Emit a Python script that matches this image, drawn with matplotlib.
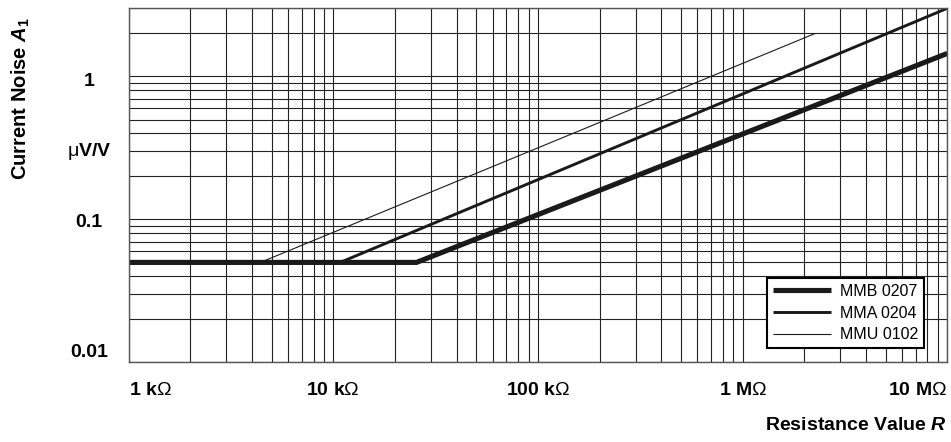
import matplotlib
matplotlib.use("Agg")
import matplotlib.pyplot as plt
from matplotlib.ticker import NullFormatter, LogLocator
import matplotlib.transforms as mtransforms

plt.rcParams['font.family'] = ['Liberation Sans', 'DejaVu Sans']
plt.rcParams['mathtext.fontset'] = 'custom'
plt.rcParams['mathtext.rm'] = 'Liberation Sans'
plt.rcParams['mathtext.it'] = 'Liberation Sans:italic'
plt.rcParams['mathtext.bf'] = 'Liberation Sans:bold'
plt.rcParams['mathtext.bfit'] = 'Liberation Sans:italic:bold'

# ---- data (resistance in ohm, current noise in uV/V) ----
series_names = ["MMB 0207", "MMA 0204", "MMU 0102"]
mmb_r = [1e3, 25.5e3, 10e6]
mmb_a = [0.05, 0.05, 1.45]
mma_r = [1e3, 10.8e3, 10e6]
mma_a = [0.05, 0.05, 3.0]
mmu_r = [1e3, 4.4e3, 2.26e6]
mmu_a = [0.05, 0.05, 2.0]

x_ticks = [1e3, 1e4, 1e5, 1e6, 1e7]
x_labels = [r"1 k$\mathrm{\Omega}$", r"10 k$\mathrm{\Omega}$", r"100 k$\mathrm{\Omega}$",
            r"1 M$\mathrm{\Omega}$", r"10 M$\mathrm{\Omega}$"]
y_ticks = [1, 0.3, 0.1, 0.01]
y_labels = ["1", r"$\mathrm{\mu}$V/V", "0.1", "0.01"]
y_label_offsets_px = [-5, 0, -3.5, 10]

W, H = 951, 442
fig = plt.figure(figsize=(W / 100, H / 100), dpi=100)
ax = fig.add_axes([128.7 / W, 1 - 362.3 / H, (947.3 - 128.7) / W, (362.3 - 8.3) / H])
ax.set_xscale("log")
ax.set_yscale("log")
ax.set_xlim(1e3, 1e7)
ax.set_ylim(0.01, 3.0)

ax.tick_params(which="both", length=0)

for s in ax.spines.values():
    s.set_color("#555555")
    s.set_linewidth(1.0)

l1, = ax.plot(mmb_r, mmb_a, color="#1a1a1a", lw=3.7, solid_capstyle="butt")
l2, = ax.plot(mma_r, mma_a, color="#1a1a1a", lw=2.1, solid_capstyle="butt")
l3, = ax.plot(mmu_r, mmu_a, color="#1a1a1a", lw=0.8, solid_capstyle="butt")

# x tick labels
ax.set_xticks(x_ticks)
ax.set_xticklabels(x_labels, fontsize=14, fontweight="bold")
ax.xaxis.set_minor_locator(LogLocator(base=10, subs=range(2, 10)))
ax.xaxis.set_minor_formatter(NullFormatter())
ax.tick_params(axis="x", pad=14)
tl = ax.get_xticklabels()
tl[0].set_ha("left")
tl[-1].set_ha("right")

# y axis: grid lines from log locator, labels as text
ax.set_yticks([])
ax.yaxis.set_minor_locator(LogLocator(base=10, subs=range(1, 10)))
ax.yaxis.set_minor_formatter(NullFormatter())
for v, lab, off in zip(y_ticks, y_labels, y_label_offsets_px):
    tr = mtransforms.offset_copy(ax.get_yaxis_transform(), fig=fig, x=0, y=off * 0.72, units="points")
    ax.text((89 - 128.7) / 818.6, v, lab, transform=tr, ha="center", va="center",
            fontsize=14, fontweight="bold")

ax.grid(which="both", color="#222222", lw=0.8)
ax.set_axisbelow(True)

fig.text(20.5 / W, 1 - 99 / H, r"Current Noise $\mathbfit{A}_{\mathbf{1}}$", rotation=90,
         ha="center", va="center", fontsize=14.5, fontweight="bold")
fig.text(947 / W, 1 - 425 / H, r"Resistance Value $\mathbfit{R}$", ha="right", va="center",
         fontsize=14, fontweight="bold")

leg = ax.legend([l1, l2, l3], series_names, loc="lower right",
                bbox_to_anchor=((924 - 128.7) / 818.6, (362.3 - 348) / 354.0),
                fontsize=11.5, frameon=True, fancybox=False, framealpha=1,
                edgecolor="black", handlelength=3.6, handletextpad=0.6,
                borderpad=0.35, labelspacing=0.42, borderaxespad=0)
leg.get_frame().set_linewidth(1.5)

fig.savefig("out.png", dpi=100)
